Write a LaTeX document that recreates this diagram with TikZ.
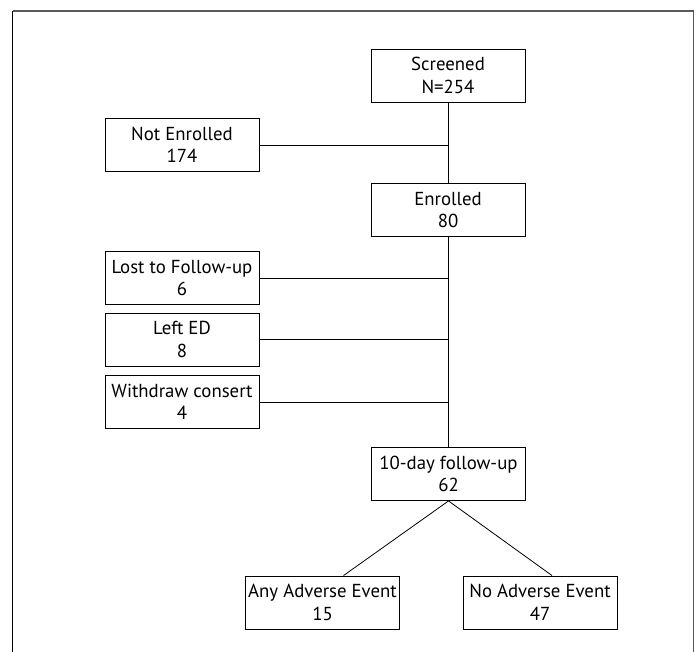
\documentclass[tikz,border=0pt]{standalone}
\usepackage{fontspec}
\setmainfont{PT Sans}
\tikzset{
  box/.style={draw, line width=0.9pt, minimum width=154pt, minimum height=53pt,
    inner xsep=0pt, align=center, font=\fontsize{18.8}{22.5}\selectfont},
  link/.style={line width=0.8pt}
}
\begin{document}
\begin{tikzpicture}[x=1pt,y=-1pt]
\useasboundingbox (0,0) rectangle (696,652);

% outer frame, open at the bottom
\draw[line width=1.2pt] (12.5,652) -- (12.5,11);
\draw[gray!70!black,line width=1.4pt] (12.5,11) -- (693.5,11) -- (693.5,652);

\node[box] (screened) at (448,75.5) {Screened\\N=254};
\node[box] (notenrolled) at (182,145) {Not Enrolled\\174};
\node[box] (enrolled) at (448,210) {Enrolled\\80};

\node[box] (lost) at (182,278) {Lost to Follow-up\\6};
\node[box] (lefted) at (182,339.5) {Left ED\\8};
\node[box] (withdraw) at (182,402) {Withdraw consert\\4};

\node[box] (followup) at (448.5,474) {10-day follow-up\\62};
\node[box] (anyae) at (322.5,602.5) {Any Adverse Event\\15};
\node[box] (noae) at (540,602.5) {No Adverse Event\\47};

\draw[link] (screened.south) -- (enrolled.north);
\draw[link] (notenrolled.east) -- (notenrolled.east -| screened.south);

\draw[link] (enrolled.south) -- (enrolled.south |- followup.north);
\draw[link] (lost.east) -- (lost.east -| enrolled.south);
\draw[link] (lefted.east) -- (lefted.east -| enrolled.south);
\draw[link] (withdraw.east) -- (withdraw.east -| enrolled.south);

\draw[link] (followup.south) -- ([xshift=21pt]anyae.north);
\draw[link] (followup.south) -- ([xshift=12pt]noae.north);
\end{tikzpicture}
\end{document}
